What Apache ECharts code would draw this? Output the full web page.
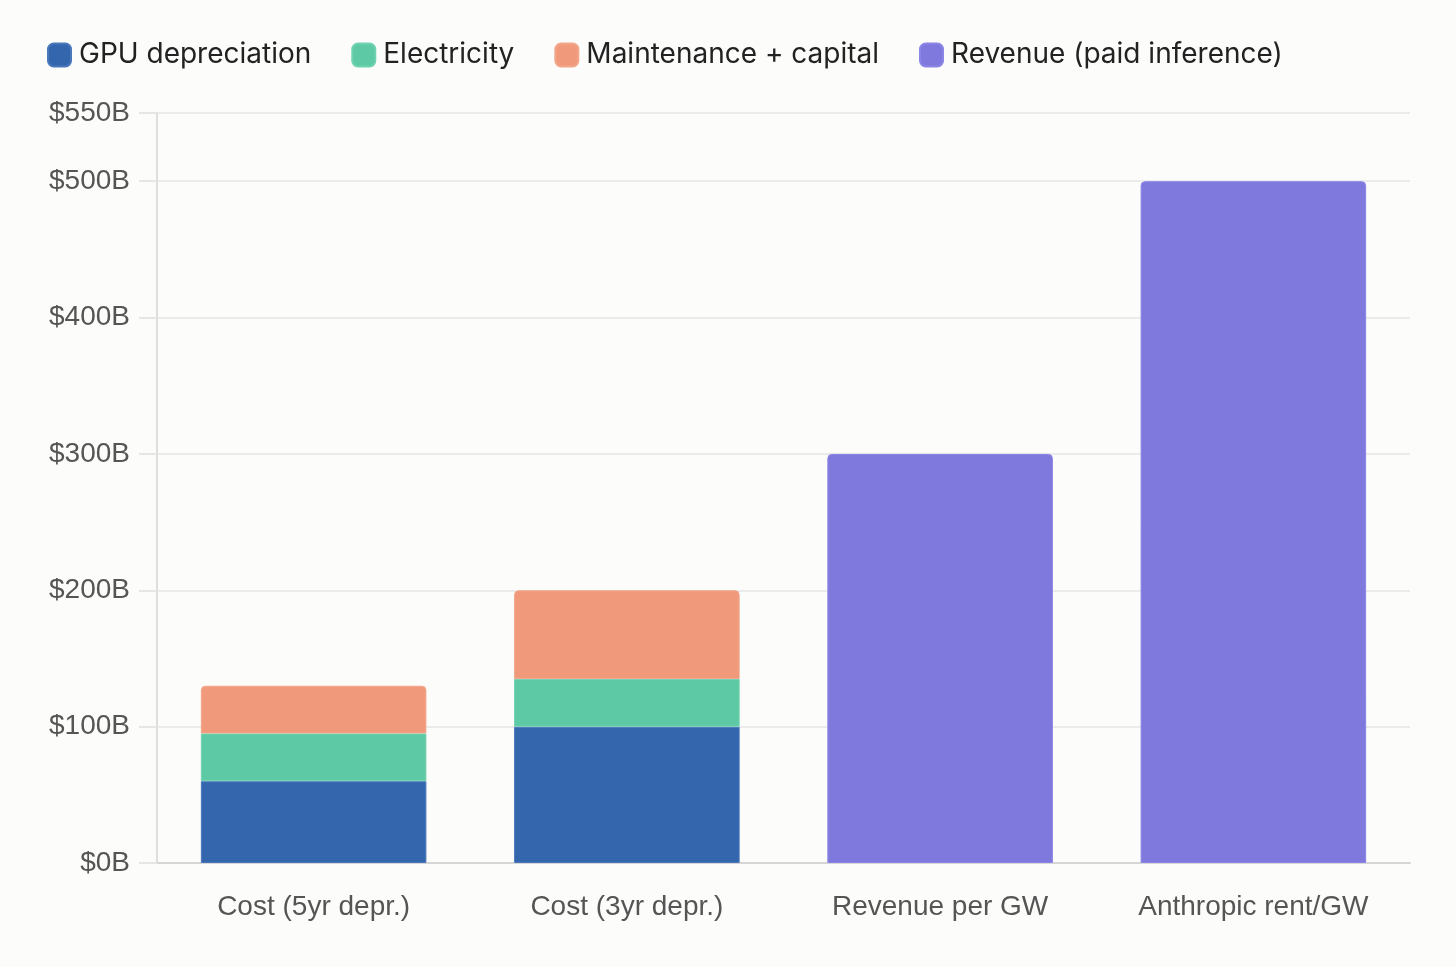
<!DOCTYPE html>
<html>
<head>
<meta charset="utf-8">
<script src="https://cdn.jsdelivr.net/npm/echarts@6/dist/echarts.min.js"></script>
<style>
  html, body { margin: 0; padding: 0; background: #fcfcfb; }
  #chart { width: 1456px; height: 967px; }
</style>
</head>
<body>
<div id="chart"></div>
<script>
// categories and values ($B per GW)
var categories = ['Cost (5yr depr.)', 'Cost (3yr depr.)', 'Revenue per GW', 'Anthropic rent/GW'];
var gpuDepreciation = [60, 100, '-', '-'];
var electricity = [35, 35, '-', '-'];
var maintenance = [35, 65, '-', '-'];
var revenue = ['-', '-', 300, 500];

var chart = echarts.init(document.getElementById('chart'));

function barSeries(name, data, color, border, rounded) {
  return {
    name: name,
    type: 'bar',
    stack: 'total',
    data: data,
    barWidth: '72%',
    itemStyle: {
      color: color,
      borderColor: border,
      borderWidth: 1,
      borderRadius: rounded ? [4, 4, 0, 0] : 0
    }
  };
}

var option = {
  backgroundColor: '#fcfcfb',
  animation: false,
  legend: {
    left: 42,
    top: 36,
    itemWidth: 23,
    itemHeight: 23,
    itemGap: 40,
    icon: 'roundRect',
    textStyle: {
      fontFamily: 'Inter',
      fontSize: 28,
      color: '#222',
      padding: [0, 0, 0, 3]
    },
    data: ['GPU depreciation', 'Electricity', 'Maintenance + capital', 'Revenue (paid inference)']
  },
  grid: {
    left: 157,
    right: 46,
    top: 113,
    bottom: 104
  },
  xAxis: {
    type: 'category',
    data: categories,
    axisLine: { lineStyle: { color: '#d6d6d6', width: 2 } },
    axisTick: { show: false },
    axisLabel: {
      margin: 30,
      fontFamily: 'Liberation Sans',
      fontSize: 28,
      color: '#555'
    }
  },
  yAxis: {
    type: 'value',
    min: 0,
    max: 550,
    interval: 100,
    axisLine: { show: true, lineStyle: { color: '#dedede', width: 2 } },
    axisTick: { show: true, length: 18, lineStyle: { color: '#e6e6e6', width: 2 } },
    splitLine: { lineStyle: { color: '#ebebeb', width: 2 } },
    axisLabel: {
      margin: 27,
      fontFamily: 'Liberation Sans',
      fontSize: 28,
      color: '#555',
      formatter: function (v) { return '$' + v + 'B'; }
    }
  },
  series: [
    barSeries('GPU depreciation', gpuDepreciation, '#3366ad', '#4a78bb', false),
    barSeries('Electricity', electricity, '#5dcaa5', '#6fd2b0', false),
    barSeries('Maintenance + capital', maintenance, '#f09a7b', '#f2a68a', true),
    barSeries('Revenue (paid inference)', revenue, '#7f79de', '#8b85e6', true)
  ]
};
chart.setOption(option);
</script>
</body>
</html>
